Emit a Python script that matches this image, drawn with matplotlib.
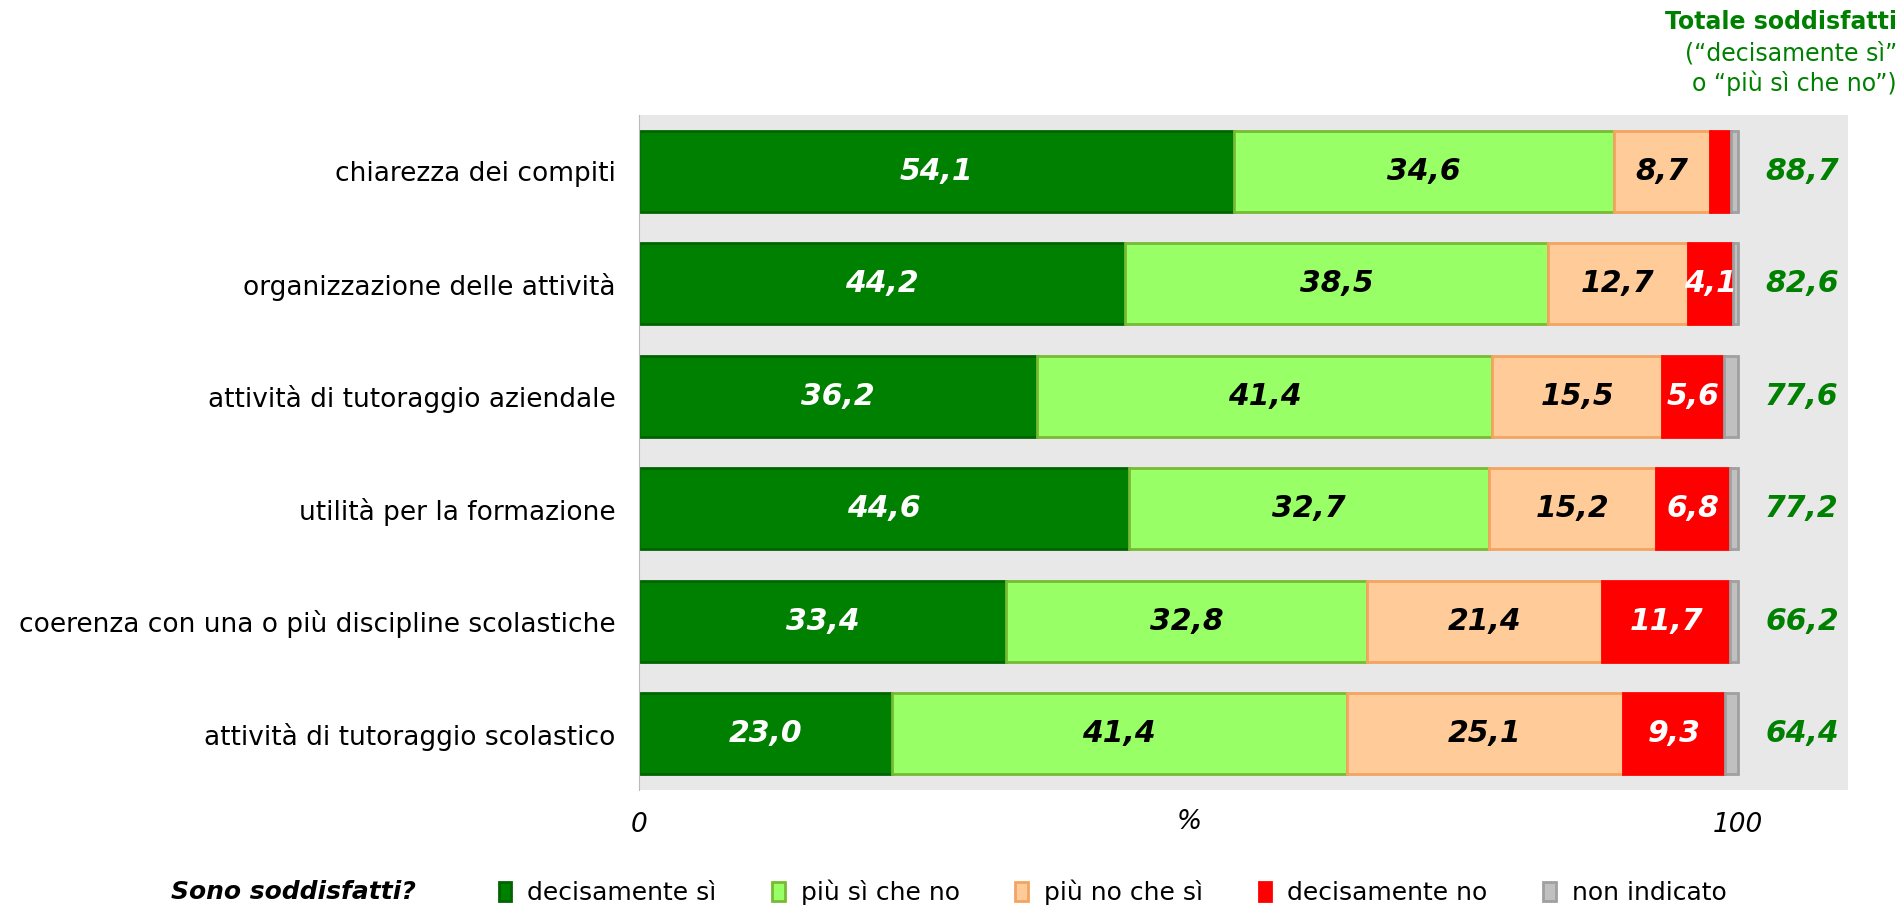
import numpy as np
import matplotlib.pyplot as plt
from matplotlib.patches import Patch

# --- data
categories = ["chiarezza dei compiti",
              "organizzazione delle attività",
              "attività di tutoraggio aziendale",
              "utilità per la formazione",
              "coerenza con una o più discipline scolastiche",
              "attività di tutoraggio scolastico"]
series_names = ["decisamente sì", "più sì che no", "più no che sì", "decisamente no", "non indicato"]
decisamente_si = [54.1, 44.2, 36.2, 44.6, 33.4, 23.0]
piu_si = [34.6, 38.5, 41.4, 32.7, 32.8, 41.4]
piu_no = [8.7, 12.7, 15.5, 15.2, 21.4, 25.1]
decisamente_no = [2.0, 4.1, 5.6, 6.8, 11.7, 9.3]
non_indicato = [0.6, 0.5, 1.3, 0.7, 0.7, 1.2]
totale = [88.7, 82.6, 77.6, 77.2, 66.2, 64.4]

# --- styles
faces = ['#008000', '#99FF66', '#FFCC99', '#FF0000', '#C0C0C0']
edges = ['#006400', '#77BB33', '#F4A460', '#FF0000', '#A0A0A0']
txtcol = ['white', 'black', 'black', 'white', None]
green = '#008000'

fig = plt.figure(figsize=(19.03, 9.06), dpi=100)
ax = fig.add_axes([639/1903, 1-790/906, (1848-639)/1903, (790-115)/906])
ax.set_facecolor('#E8E8E8')

series = [decisamente_si, piu_si, piu_no, decisamente_no, non_indicato]
y = np.arange(len(categories))
left = np.zeros(len(categories))
for i, vals in enumerate(series):
    vals = np.array(vals)
    ax.barh(y, vals, left=left, height=0.72, color=faces[i], edgecolor=edges[i], linewidth=2)
    if txtcol[i]:
        for j, v in enumerate(vals):
            if v >= 3:
                ax.text(left[j] + v/2, y[j], "{:.1f}".format(v).replace('.', ','),
                        ha='center', va='center', color=txtcol[i], fontsize=21.5,
                        fontweight='bold', fontstyle='italic')
    left += vals

for j, t in enumerate(totale):
    ax.text(105.8, y[j], "{:.1f}".format(t).replace('.', ','), ha='center', va='center',
            color=green, fontsize=21.5, fontweight='bold', fontstyle='italic')

ax.set_xlim(0, 110)
ax.set_ylim(len(categories) - 0.5, -0.5)
ax.set_yticks(y)
ax.set_yticklabels(categories, fontsize=19)
ax.tick_params(axis='y', length=0, pad=17)
ax.set_xticks([])
for s in ['top', 'right', 'bottom']:
    ax.spines[s].set_visible(False)
ax.spines['left'].set_color('#BBBBBB')

# x axis labels
fig.text(639/1903, 1-825/906, "0", ha='center', va='center', fontsize=19, fontstyle='italic')
fig.text(1189/1903, 1-822/906, "%", ha='center', va='center', fontsize=19, fontstyle='italic')
fig.text(1738/1903, 1-825/906, "100", ha='center', va='center', fontsize=19, fontstyle='italic')

# header
fig.text(1897/1903, 1-22/906, "Totale soddisfatti", ha='right', va='center',
         fontsize=17, fontweight='bold', color=green)
fig.text(1897/1903, 1-53/906, "(“decisamente sì”", ha='right', va='center',
         fontsize=17, color=green)
fig.text(1897/1903, 1-83/906, "o “più sì che no”)", ha='right', va='center',
         fontsize=17, color=green)

# legend
fig.text(416/1903, 1-892/906, "Sono soddisfatti?", ha='right', va='center',
         fontsize=18, fontweight='bold', fontstyle='italic')
handles = [Patch(facecolor=faces[i], edgecolor=edges[i], linewidth=2) for i in range(5)]
fig.legend(handles, series_names, loc='center left', bbox_to_anchor=(476/1903, 1-892/906),
           ncol=5, frameon=False, fontsize=18, handlelength=0.5, handleheight=0.8,
           handletextpad=0.65, columnspacing=2.22)

fig.savefig('out.png', dpi=100)
